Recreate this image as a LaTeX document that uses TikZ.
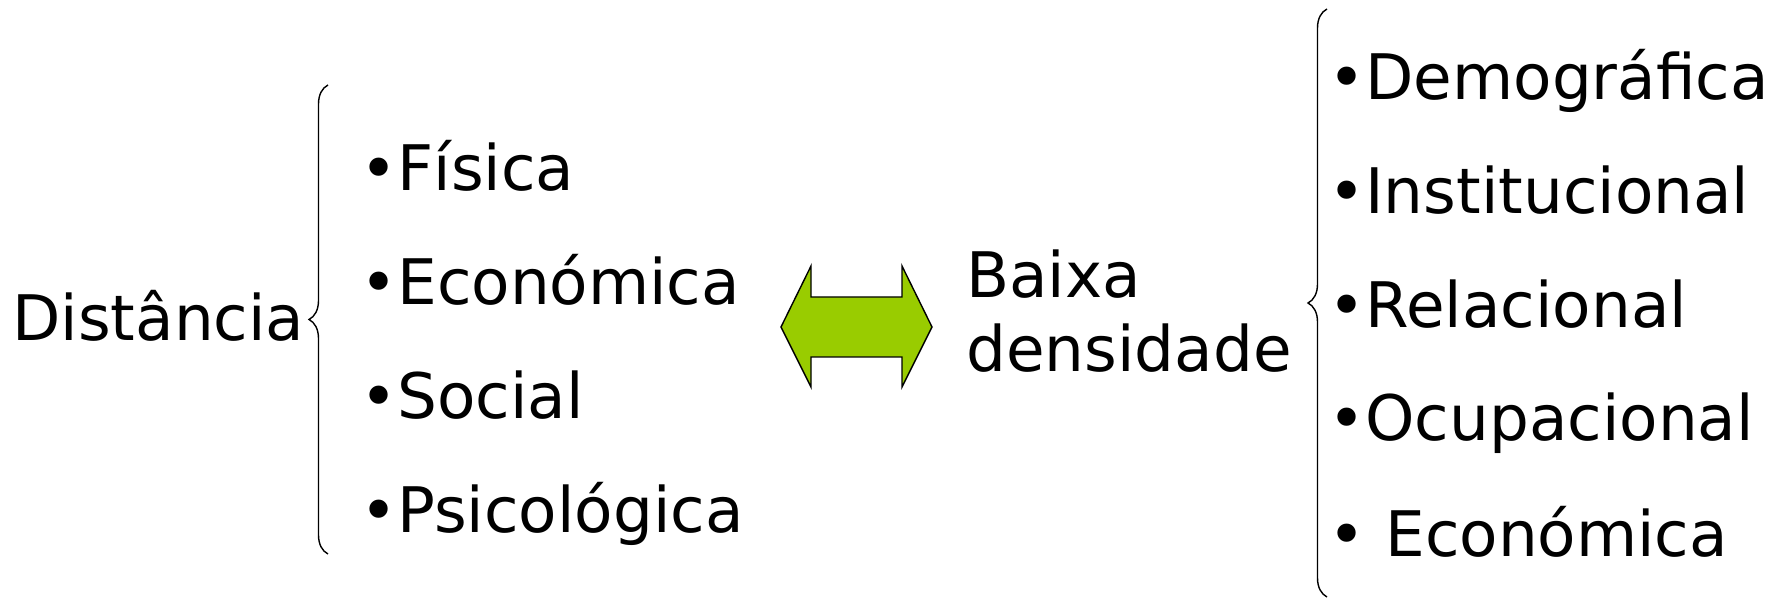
\documentclass[tikz,border=0pt]{standalone}
\usepackage{fontspec}
\setmainfont{DejaVu Sans}
\usetikzlibrary{decorations.pathreplacing}
\definecolor{arrowgreen}{RGB}{153,204,0}

\begin{document}
\begin{tikzpicture}[x=0.5pt,y=-0.5pt,
        txt/.style={anchor=base west,inner sep=0pt,font=\fontsize{31.4}{37}\selectfont},
        bigbrace/.style={decorate,decoration={brace,amplitude=9.5pt},line width=0.7pt}]
        \useasboundingbox (0,0) rectangle (1784,598);
        % left side: distance and its kinds
        \node[txt] (dist) at (12,341) {Distância};
        \coordinate (lbtop) at (328,85);
        \coordinate (lbbot) at (328,554);
        \draw[bigbrace] (lbbot) -- (lbtop);
        \node[txt] (fisica) at (360,191) {•Física};
        \node[txt] (econ) at (360,305) {•Económica};
        \node[txt] (social) at (360,419) {•Social};
        \node[txt] (psico) at (360,532) {•Psicológica};
        % double arrow
        \draw[fill=arrowgreen,line width=0.7pt] (781,327) -- (811,266) -- (811,297) -- (902,297)
            -- (902,266) -- (932,327) -- (902,387) -- (902,357) -- (811,357) -- (811,387) -- cycle;
        % right side: low density and its kinds
        \node[txt] (baixa) at (966,298) {Baixa};
        \node[txt] (dens) at (966,372) {densidade};
        \coordinate (rbtop) at (1327,9);
        \coordinate (rbbot) at (1327,597);
        \draw[bigbrace] (rbbot) -- (rbtop);
        \node[txt] (demo) at (1328,100) {•Demográfica};
        \node[txt] (inst) at (1328,214) {•Institucional};
        \node[txt] (rel) at (1328,328) {•Relacional};
        \node[txt] (ocup) at (1328,441) {•Ocupacional};
        \node[txt] (econb) at (1328,557) {• Económica};
\end{tikzpicture}
\end{document}
